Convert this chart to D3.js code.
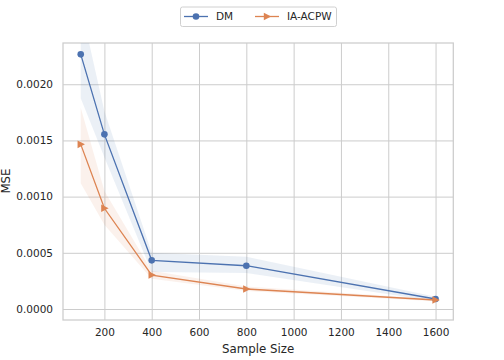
<!DOCTYPE html>
<html><head><meta charset="utf-8">
<script src="https://cdn.jsdelivr.net/npm/d3@7"></script>
<style>body{margin:0;background:#fff;} svg{display:block;font-family:"DejaVu Sans",sans-serif;}</style>
</head><body><svg id="c" width="504" height="360"></svg>
<script>
const sampleSizes = [100, 200, 400, 800, 1600];
const dmMSE = [0.002266, 0.001554, 0.000433, 0.000385, 0.000089];
const dmLow = [0.001875, 0.00135, 0.00033, 0.00032, 0.00007];
const dmHigh = [0.0027, 0.00176, 0.0005, 0.000465, 0.00011];
const iaMSE = [0.001465, 0.000896, 0.000302, 0.000178, 0.00008];
const iaLow = [0.00112, 0.00075, 0.00027, 0.00016, 0.00007];
const iaHigh = [0.00179, 0.00105, 0.00034, 0.0002, 0.00009];
const xTicks = [200, 400, 600, 800, 1000, 1200, 1400, 1600];
const yTicks = [0, 0.0005, 0.0010, 0.0015, 0.0020];
const seriesNames = ["DM", "IA-ACPW"];
const colors = ["#4c72b0", "#dd8452"];

const svg = d3.select("#c");
const L = 63, R = 453.3, T = 43, B = 320;
const x = d3.scaleLinear().domain([25, 1675]).range([L, R]);
const y = d3.scaleLinear().domain([-0.0000979, 0.002367]).range([B, T]);

const defs = svg.append("defs");
defs.append("clipPath").attr("id", "clip").append("rect")
  .attr("x", L).attr("y", T).attr("width", R - L).attr("height", B - T);

// grid
const xg = svg.append("g").attr("transform", `translate(0,${B})`)
  .call(d3.axisBottom(x).tickValues(xTicks).tickSize(-(B - T)).tickFormat(d => d));
xg.select(".domain").remove();
xg.selectAll("line").attr("stroke", "#cccccc").attr("stroke-width", 1);
xg.selectAll("text").attr("fill", "#262626").attr("font-size", "10.5px").attr("dy", "1.2em")
  .attr("font-family", "DejaVu Sans");

const yg = svg.append("g").attr("transform", `translate(${L},0)`)
  .call(d3.axisLeft(y).tickValues(yTicks).tickSize(-(R - L)).tickFormat(d3.format(".4f")));
yg.select(".domain").remove();
yg.selectAll("line").attr("stroke", "#cccccc").attr("stroke-width", 1);
yg.selectAll("text").attr("fill", "#262626").attr("font-size", "10.5px").attr("x", -10)
  .attr("font-family", "DejaVu Sans");

// frame
svg.append("rect").attr("x", L).attr("y", T).attr("width", R - L).attr("height", B - T)
  .attr("fill", "none").attr("stroke", "#cccccc").attr("stroke-width", 1.25);

const series = [
  {name: seriesNames[0], m: dmMSE, lo: dmLow, hi: dmHigh, c: colors[0], mk: "circle"},
  {name: seriesNames[1], m: iaMSE, lo: iaLow, hi: iaHigh, c: colors[1], mk: "tri"}
];
const plot = svg.append("g").attr("clip-path", "url(#clip)");
const area = d3.area().x((d, i) => x(sampleSizes[i])).y0(d => y(d[0])).y1(d => y(d[1]));
const line = d3.line().x((d, i) => x(sampleSizes[i])).y(d => y(d));
const tri = "M-3.2,-3.8L4.2,0L-3.2,3.8Z";

series.forEach(s => {
  plot.append("path").datum(s.lo.map((v, i) => [v, s.hi[i]]))
    .attr("d", area).attr("fill", s.c).attr("fill-opacity", 0.11);
});
series.forEach(s => {
  plot.append("path").datum(s.m).attr("d", line).attr("fill", "none")
    .attr("stroke", s.c).attr("stroke-width", 1.3);
  s.m.forEach((v, i) => {
    if (s.mk === "circle") {
      plot.append("circle").attr("cx", x(sampleSizes[i])).attr("cy", y(v)).attr("r", 3.3).attr("fill", s.c);
    } else {
      plot.append("path").attr("d", tri).attr("transform", `translate(${x(sampleSizes[i])},${y(v)})`).attr("fill", s.c);
    }
  });
});

// axis labels
svg.append("text").attr("x", (L + R) / 2).attr("y", 353).attr("text-anchor", "middle")
  .attr("font-size", "11.8px").attr("fill", "#262626").text("Sample Size");
svg.append("text").attr("transform", `translate(9.5,${(T + B) / 2 - 0.5}) rotate(-90)`).attr("text-anchor", "middle")
  .attr("font-size", "11.8px").attr("fill", "#262626").text("MSE");

// legend
const lg = svg.append("g");
lg.append("rect").attr("x", 180.5).attr("y", 7).attr("width", 156).attr("height", 19.5).attr("rx", 2)
  .attr("fill", "#fff").attr("stroke", "#d0d0d0").attr("stroke-width", 1);
const lx = [184, 255];
series.forEach((s, i) => {
  const g = lg.append("g");
  g.append("line").attr("x1", lx[i]).attr("x2", lx[i] + 24).attr("y1", 16.5).attr("y2", 16.5)
    .attr("stroke", s.c).attr("stroke-width", 1.3);
  if (s.mk === "circle") g.append("circle").attr("cx", lx[i] + 12).attr("cy", 16.5).attr("r", 3.3).attr("fill", s.c);
  else g.append("path").attr("d", tri).attr("transform", `translate(${lx[i] + 12},16.5)`).attr("fill", s.c);
  g.append("text").attr("x", lx[i] + 32).attr("y", 20.3).attr("font-size", "10.5px").attr("fill", "#262626").text(s.name);
});
</script></body></html>
